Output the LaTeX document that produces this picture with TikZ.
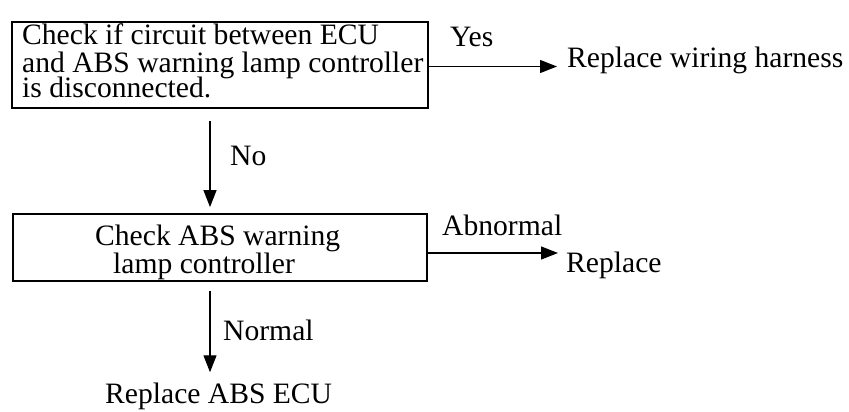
\documentclass[tikz,border=0pt]{standalone}
\usepackage{fontspec}
\setmainfont{Liberation Serif}
\usetikzlibrary{arrows.meta,calc}
\begin{document}
\begin{tikzpicture}[x=1pt,y=-1pt,
  font=\fontsize{29.6}{32}\selectfont,
  box/.style={draw=black,line width=1.8pt,inner sep=0pt,minimum width=#1},
  txt/.style={inner sep=0pt,anchor=base west},
  arr/.style={line width=1.3pt,-{Triangle[length=17pt,width=13pt]}}]
\useasboundingbox (0,0) rectangle (849,412);
% box 1
\node[box=416pt,minimum height=86pt] (b1) at (220,65) {};
\node[txt] (b1a) at (22,45) {Check if circuit between ECU};
\node[txt] (b1b) at (22,73) {and ABS warning lamp controller};
\node[txt] (b1c) at (22,97) {is disconnected.};
% box 2
\node[box=414pt,minimum height=67pt] (b2) at (220,247.5) {};
\node[txt] (b2a) at (95,245) {Check ABS warning};
\node[txt] (b2b) at (113,273) {lamp controller};
% results
\node[txt] (rw) at (567,68) {Replace wiring harness};
\node[txt] (rp) at (566,272) {Replace};
\node[txt] (ecu) at (105,403) {Replace ABS ECU};
% labels
\node[txt] (yes) at (450,47) {Yes};
\node[txt] (no) at (230,165) {No};
\node[txt] (abn) at (442,235) {Abnormal};
\node[txt] (nor) at (223,340) {Normal};
% connectors
\coordinate (y1) at ($(b1.east)+(0,1.5)$);
\draw[arr,shorten >=10pt] (y1) -- (rw.west |- y1);
\coordinate (y2) at ($(b2.east)+(0,5.5)$);
\draw[arr,shorten >=8pt] (y2) -- (rp.west |- y2);
\draw[arr,shorten <=12pt,shorten >=6pt] ([xshift=-10pt]b1.south) -- ([xshift=-10pt]b2.north);
\draw[arr,shorten <=9pt,shorten >=10pt] ([xshift=-10pt]b2.south) -- ([xshift=-10pt]b2.south |- ecu.north);
\end{tikzpicture}
\end{document}
